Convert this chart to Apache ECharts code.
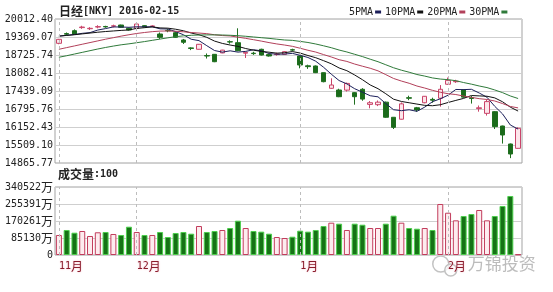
<!DOCTYPE html>
<html>
<head>
<meta charset="utf-8">
<script src="https://cdn.jsdelivr.net/npm/echarts@6/dist/echarts.min.js"></script>
<style>
html, body { margin: 0; padding: 0; background: #fff; }
#chart { width: 553px; height: 292px; }
</style>
</head>
<body>
<div id="chart"></div>
<script>
// Trading days shown in the window
const dates = [
  '2015-11-16','2015-11-17','2015-11-18','2015-11-19','2015-11-20','2015-11-24','2015-11-25','2015-11-26','2015-11-27','2015-11-30',
  '2015-12-01','2015-12-02','2015-12-03','2015-12-04','2015-12-07','2015-12-08','2015-12-09','2015-12-10','2015-12-11','2015-12-14',
  '2015-12-15','2015-12-16','2015-12-17','2015-12-18','2015-12-21','2015-12-22','2015-12-24','2015-12-25','2015-12-28','2015-12-29',
  '2015-12-30','2016-01-04','2016-01-05','2016-01-06','2016-01-07','2016-01-08','2016-01-12','2016-01-13','2016-01-14','2016-01-15',
  '2016-01-18','2016-01-19','2016-01-20','2016-01-21','2016-01-22','2016-01-25','2016-01-26','2016-01-27','2016-01-28','2016-01-29',
  '2016-02-01','2016-02-02','2016-02-03','2016-02-04','2016-02-05','2016-02-08','2016-02-09','2016-02-10','2016-02-12','2016-02-15'
];

// Daily prices
const opens = [
  19143,19490,19595,19705,19665,19725,19745,19755,19797,19680,
  19680,19775,19745,19476,19605,19522,19262,18980,18930,18705,
  18750,18800,19200,19166,18790,18790,18930,18740,18745,18750,
  18915,18690,18340,18333,18094,17535,17475,17470,17380,17500,
  16960,16950,17040,16500,16430,17200,16840,17020,17140,17180,
  17680,17770,17475,17200,16810,16640,16700,16188,15545,15390
];
const closes = [
  19286,19470,19476,19725,19680,19740,19730,19770,19715,19620,
  19834,19730,19765,19358,19590,19358,19180,18960,19108,18690,
  18486,18900,19190,18880,18820,18775,18725,18690,18760,18845,
  18900,18368,18310,18094,17772,17654,17235,17710,17235,17150,
  17020,17040,16500,16140,16980,17180,16760,17250,17110,17500,
  17820,17790,17220,17170,16840,17060,16165,15866,15187,16106
];
const lows = [
  19110,19430,19460,19660,19620,19680,19700,19710,19700,19600,
  19660,19710,19720,19300,19540,19340,19120,18900,18920,18600,
  18470,18790,19130,18860,18620,18730,18710,18670,18700,18740,
  18860,18250,18230,18080,17750,17520,17220,17420,16950,17090,
  16820,16900,16480,16080,16420,17110,16700,17000,17020,16880,
  17660,17730,17200,16990,16700,16560,16080,15560,15040,15380
];
const highs = [
  19300,19530,19640,19770,19720,19790,19770,19810,19810,19700,
  19850,19790,19790,19530,19650,19555,19300,19000,19120,18780,
  18760,18910,19250,19680,18840,18840,18950,18760,18810,18860,
  18950,18700,18380,18350,18100,17892,17520,17740,17400,17540,
  17080,17100,17060,16510,17030,17270,16870,17260,17200,17650,
  17920,17840,17500,17260,16920,17120,16720,16200,15560,16140
];

// Daily volume, in units of 10,000 (万)
const volumes = [
  100200,125200,111700,120200,95200,113700,115200,105200,100200,141700,
  115200,100200,100200,115200,90100,110200,115200,106700,145200,115200,
  120200,125200,135200,171800,135200,120200,116900,106700,90100,85100,
  91600,121700,116900,125200,145200,161800,156800,125200,156800,151700,
  135200,135200,156800,196800,161800,135200,131700,135200,125200,255400,
  211800,173600,195300,205300,225400,173600,195300,245400,295500,3000
];

// Moving averages
const ma5 = [
  19400,19430,19460,19500,19527,19618,19670,19729,19727,19715,
  19734,19734,19733,19661,19655,19560,19450,19289,19239,19059,
  18885,18829,18875,18829,18855,18913,18878,18778,18754,18759,
  18784,18713,18637,18503,18289,18040,17813,17693,17521,17397,
  17270,17231,16989,16770,16736,16768,16712,16862,17056,17160,
  17288,17494,17488,17500,17368,17216,16891,16620,16224,16077
];
const ma10 = [
  19400,19425,19450,19480,19510,19540,19565,19585,19605,19621,
  19676,19702,19731,19694,19685,19647,19592,19511,19450,19357,
  19223,19140,19082,19034,18957,18899,18853,18826,18792,18807,
  18849,18795,18707,18629,18524,18412,18263,18165,18012,17843,
  17655,17522,17341,17146,17066,17019,16972,16926,16913,16948,
  17028,17103,17175,17278,17264,17252,17193,17054,16862,16722
];
const ma20 = [
  18930,18990,19050,19110,19170,19230,19290,19345,19400,19450,
  19495,19530,19560,19580,19585,19575,19555,19530,19510,19489,
  19449,19421,19406,19364,19321,19273,19223,19169,19121,19082,
  19036,18967,18895,18831,18741,18655,18558,18496,18402,18325,
  18252,18159,18024,17887,17795,17715,17617,17545,17463,17395,
  17341,17313,17258,17212,17165,17136,17082,16990,16887,16835
];
const ma30 = [
  18645,18700,18760,18820,18880,18940,18995,19045,19090,19125,
  19165,19205,19250,19295,19340,19380,19410,19430,19440,19445,
  19445,19440,19430,19415,19395,19370,19345,19320,19290,19262,
  19249,19212,19173,19119,19055,18986,18903,18834,18751,18669,
  18575,18486,18377,18270,18183,18110,18029,17972,17906,17866,
  17844,17807,17741,17684,17618,17561,17476,17381,17262,17171
];

// Axis tick labels
const priceTicks = ['14865.77','15509.10','16152.43','16795.76','17439.09','18082.41','18725.74','19369.07','20012.40'];
const volTicks = ['0','85130','170261','255391','340522'];

const priceMin = Number(priceTicks[0]);
const priceMax = Number(priceTicks[priceTicks.length - 1]);
const priceStep = (priceMax - priceMin) / (priceTicks.length - 1);
const volMax = Number(volTicks[volTicks.length - 1]);
const volStep = volMax / (volTicks.length - 1);

const MONO = "'DejaVu Sans Mono', monospace";
const CJK = "'Noto Sans CJK SC', sans-serif";

const UP_FILL = '#fde6eb', UP_EDGE = '#c9456a';
const DN_FILL = '#1a6a1a', DN_EDGE = '#1f6f1f';
const VUP_FILL = '#fdecef', VUP_EDGE = '#c23c5c';
const VDN_FILL = '#167216', VDN_EDGE = '#4ccf4c';

// First trading day of each month
const monthStarts = dates.map((d, i) => (i === 0 || d.slice(5, 7) !== dates[i - 1].slice(5, 7)) ? i : -1).filter(i => i >= 0);

const candleData = opens.map((o, i) => [o, closes[i], lows[i], highs[i]]);
const volData = volumes.map((v, i) => {
  const up = closes[i] >= opens[i];
  return {
    value: v,
    itemStyle: up ? { color: VUP_FILL, borderColor: VUP_EDGE } : { color: VDN_FILL, borderColor: VDN_EDGE }
  };
});

const monthLines = {
  silent: true,
  symbol: 'none',
  label: { show: false },
  lineStyle: { type: [3, 3], color: '#bdbdbd', width: 1 },
  animation: false,
  data: monthStarts.map(i => ({ xAxis: dates[i] }))
};

const gridLeft = 55, gridWidth = 467;

const chart = echarts.init(document.getElementById('chart'), null, { renderer: 'canvas' });
chart.setOption({
  animation: false,
  backgroundColor: '#fff',
  title: [
    {
      text: '{c|日经}{n|[NKY] 2016-02-15}',
      left: 59, top: 5, padding: 0,
      textStyle: { rich: {
        c: { fontFamily: CJK, fontSize: 12, color: '#222' },
        n: { fontFamily: MONO, fontSize: 10, color: '#222' }
      } }
    },
    {
      text: '{c|成交量}{n|:100}',
      left: 58, top: 168, padding: 0,
      textStyle: { rich: {
        c: { fontFamily: CJK, fontSize: 12, color: '#222' },
        n: { fontFamily: MONO, fontSize: 10, color: '#222' }
      } }
    }
  ],
  legend: {
    data: ['5PMA', '10PMA', '20PMA', '30PMA'],
    left: 349, top: 7, padding: 0,
    align: 'right',
    icon: 'rect', itemWidth: 6, itemHeight: 3, itemGap: 4,
    selectedMode: false,
    textStyle: { fontFamily: MONO, fontSize: 10, color: '#222', padding: [0, -3, 0, 0] }
  },
  grid: [
    { left: gridLeft, width: gridWidth, top: 19, height: 144, show: true, borderColor: '#a3a3a3', borderWidth: 1, backgroundColor: '#fff' },
    { left: gridLeft, width: gridWidth, top: 187, height: 68, show: true, borderColor: '#a3a3a3', borderWidth: 1, backgroundColor: '#fff' }
  ],
  xAxis: [
    {
      type: 'category', gridIndex: 0, data: dates, boundaryGap: true,
      axisLine: { show: false }, axisTick: { show: false }, axisLabel: { show: false }, splitLine: { show: false }
    },
    {
      type: 'category', gridIndex: 1, data: dates, boundaryGap: true,
      axisLine: { show: false }, axisTick: { show: false }, splitLine: { show: false },
      axisLabel: {
        interval: (i) => monthStarts.indexOf(i) >= 0,
        formatter: (v) => '{n|' + Number(v.slice(5, 7)) + '}{c|月}',
        align: 'left', margin: 5,
        rich: {
          n: { fontFamily: MONO, fontSize: 10, color: '#8a1c2c', textShadowColor: '#f5b5c2', textShadowBlur: 2 },
          c: { fontFamily: CJK, fontSize: 12, color: '#8a1c2c', textShadowColor: '#f5b5c2', textShadowBlur: 2 }
        }
      }
    }
  ],
  yAxis: [
    {
      type: 'value', gridIndex: 0, min: priceMin, max: priceMax, interval: priceStep,
      axisLine: { show: false }, axisTick: { show: false },
      splitLine: { show: true, lineStyle: { color: '#cfcfcf', width: 1 } },
      axisLabel: {
        margin: 2, fontFamily: MONO, fontSize: 10, color: '#222',
        formatter: (v) => priceTicks[Math.round((v - priceMin) / priceStep)]
      }
    },
    {
      type: 'value', gridIndex: 1, min: 0, max: volMax, interval: volStep,
      axisLine: { show: false }, axisTick: { show: false },
      splitLine: { show: true, lineStyle: { color: '#cfcfcf', width: 1 } },
      axisLabel: {
        margin: 2,
        formatter: (v) => {
          const t = volTicks[Math.round(v / volStep)];
          return t === '0' ? '{n|0}' : '{n|' + t + '}{c|万}';
        },
        rich: {
          n: { fontFamily: MONO, fontSize: 10, color: '#222' },
          c: { fontFamily: CJK, fontSize: 12, color: '#222' }
        }
      }
    }
  ],
  series: [
    {
      name: 'K', type: 'candlestick', xAxisIndex: 0, yAxisIndex: 0,
      data: candleData, barWidth: 5,
      itemStyle: { color: UP_FILL, color0: DN_FILL, borderColor: UP_EDGE, borderColor0: DN_EDGE, borderWidth: 1 },
      markLine: monthLines
    },
    { name: '5PMA', type: 'line', data: ma5, showSymbol: false, symbol: 'none', color: '#1c1f5a', lineStyle: { width: 1, color: '#1c1f5a' } },
    { name: '10PMA', type: 'line', data: ma10, showSymbol: false, symbol: 'none', color: '#111111', lineStyle: { width: 1, color: '#111111' } },
    { name: '20PMA', type: 'line', data: ma20, showSymbol: false, symbol: 'none', color: '#b2405a', lineStyle: { width: 1, color: '#b2405a' } },
    { name: '30PMA', type: 'line', data: ma30, showSymbol: false, symbol: 'none', color: '#2f7a3a', lineStyle: { width: 1, color: '#2f7a3a' } },
    {
      name: 'VOL', type: 'bar', xAxisIndex: 1, yAxisIndex: 1,
      data: volData, barWidth: 6,
      itemStyle: { borderWidth: 1 },
      markLine: monthLines
    }
  ],
  graphic: [
    {
      type: 'group', left: 432, top: 254, silent: true,
      children: [
        { type: 'circle', shape: { cx: 10, cy: 10, r: 8 }, style: { fill: 'rgba(255,255,255,0.75)', stroke: '#c3c3c3', lineWidth: 1.5 } },
        { type: 'circle', shape: { cx: 20, cy: 16, r: 6 }, style: { fill: 'rgba(255,255,255,0.75)', stroke: '#c3c3c3', lineWidth: 1.5 } },
        { type: 'text', x: 37, y: 1, style: { text: '万锦投资', font: "17px 'Noto Sans CJK SC'", fill: '#bcbcbc', stroke: '#ffffff', lineWidth: 2 } }
      ]
    }
  ]
});
</script>
</body>
</html>
